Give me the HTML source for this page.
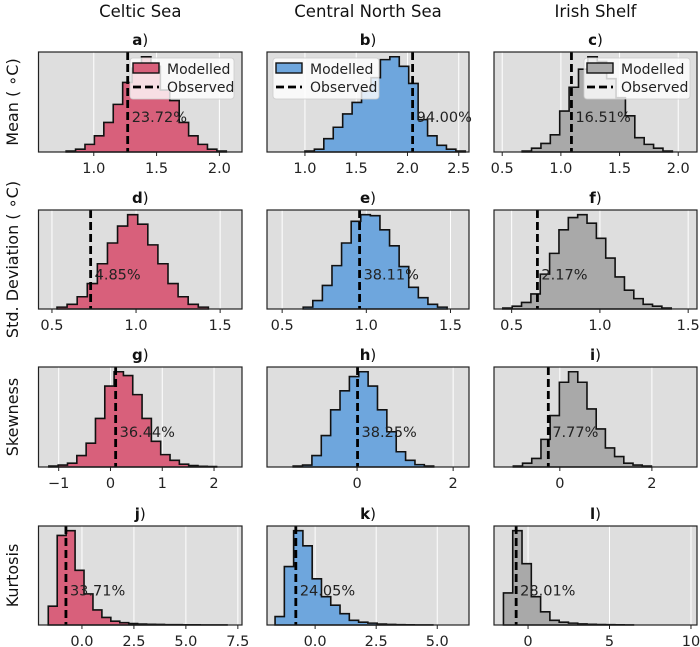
<!DOCTYPE html>
<html><head><meta charset="utf-8"><style>
body{margin:0;background:#fff;}
svg{display:block;font-family:"DejaVu Sans","Liberation Sans",sans-serif;}
</style></head><body>
<svg id="chart" width="700" height="647" viewBox="0 0 700 647" xmlns="http://www.w3.org/2000/svg"></svg>
<script>
// ---- data ----
const regions = ["Celtic Sea", "Central North Sea", "Irish Shelf"];
const metrics = ["Mean ( \u2218C)", "Std. Deviation ( \u2218C)", "Skewness", "Kurtosis"];
const panelLetters = ["a","b","c","d","e","f","g","h","i","j","k","l"];
const xMins = [0.56,0.63,0.43, 0.42,0.41,0.40, -1.39,-1.875,-1.43, -2.09,-1.97,-2.09];
const xMaxs = [2.18,2.60,2.16, 1.63,1.61,1.55, 2.54,2.33,2.98, 7.7,6.3,10.37];
const xTicks = [[1.0,1.5,2.0],[1.0,1.5,2.0,2.5],[0.5,1.0,1.5,2.0],
                [0.5,1.0,1.5],[0.5,1.0,1.5],[0.5,1.0,1.5],
                [-1,0,1,2],[0,2],[0,2],
                [0.0,2.5,5.0,7.5],[0.0,2.5,5.0],[0,5,10]];
const tickDecimals = [1,1,1, 1,1,1, 0,0,0, 1,1,0];
const binStarts = [0.78,1.0,0.67, 0.53,0.625,0.45, -1.19,-1.33,-1.01, -1.62,-1.64,-1.51];
const binWidths = [0.075,0.092,0.08, 0.06,0.057,0.053, 0.18,0.195,0.2, 0.43,0.38,0.57];
const countsA = [1,3,8,17,31,50,73,88,100,90,65,54,31,17,8,3,1];
const countsB = [1,3,14,26,40,52,64,78,97,100,90,72,34,17,7,3,1];
const countsC = [1,4,9,18,43,68,87,100,95,77,57,38,15,8,4,1];
const countsD = [2,5,13,27,48,70,88,100,90,68,48,27,13,5,2];
const countsE = [2,9,25,46,70,93,100,99,84,67,45,23,12,5,2];
const countsF = [1,3,7,16,37,59,84,97,100,91,75,54,34,20,11,5,3,1];
const countsG = [1,2,4,12,25,51,85,100,96,76,51,27,13,7,3,1.5,0.7,0.5];
const countsH = [1,2,12,33,60,80,95,100,85,60,37,16,7,2.5,1];
const countsI = [1,4,9,29,54,89,100,89,61,40,20,11,4,2,1];
const countsJ = [20,95,100,58,33,16,8,4,2.5,1.5,1,0.8,0.6,0.4,0.3,0.2,0.2,0.1,0.1,0.1];
const countsK = [9,62,100,84,49,30,21,12,5,3,2,1,0.6,0.4,0.2,0.1,0.1];
const countsL = [34,100,65,30,14,5,3,2,1.2,0.8,0.5,0.3,0.2,0.1];
const allCounts = [countsA,countsB,countsC,countsD,countsE,countsF,countsG,countsH,countsI,countsJ,countsK,countsL];
const observed = [1.27,2.05,1.09, 0.73,0.96,0.646, 0.10,0.01,-0.25, -0.77,-0.79,-0.73];
const pctLabels = ["23.72%","94.00%","16.51%","4.85%","38.11%","2.17%","36.44%","38.25%","7.77%","33.71%","24.05%","28.01%"];
const pctValues = [1.32,2.07,1.14, 0.80,1.00,0.67, 0.18,0.05,-0.15, 0.0,-0.1,-0.2];
const colors = ["#d8607b","#6ea6dd","#a9a9a9"];

// ---- layout ----
const colLeft = [38.5, 267, 494];
const colW = [203.5, 202, 203];
const rowTop = [52, 210, 367, 526];
const rowH = [100, 99, 100, 99];
const NS = "http://www.w3.org/2000/svg";
const svg = document.getElementById("chart");
function mk(tag, attrs, parent){const e=document.createElementNS(NS,tag);for(const k in attrs)e.setAttribute(k,attrs[k]);(parent||svg).appendChild(e);return e;}

regions.forEach((r,c)=>{
  const t=mk("text",{x:colLeft[c]+colW[c]/2,y:17,"text-anchor":"middle","font-size":"16.5",fill:"#111"});
  
  
  t.textContent=r;
});
metrics.forEach((m,r)=>{
  const cy=rowTop[r]+rowH[r]/2;
  const t=mk("text",{x:0,y:0,transform:`translate(18,${cy}) rotate(-90)`,"text-anchor":"middle","font-size":"16",fill:"#111"});
  
  
  t.textContent=m;
});

for(let p=0;p<12;p++){
  const r=Math.floor(p/3), c=p%3;
  const L=colLeft[c], W=colW[c], T=rowTop[r], H=rowH[r], B=T+H;
  const xs=v=>L+(v-xMins[p])/(xMaxs[p]-xMins[p])*W;
  const counts=allCounts[p];
  const ymax=Math.max(...counts)*1.05;
  const ys=v=>B-v/ymax*H;
  const g=mk("g",{});
  
  
  const bg=mk("rect",{x:L,y:T,width:W,height:H,fill:"#dedede"},g);
  
  
  xTicks[p].forEach(tv=>{
    const x=xs(tv);
    const gl=mk("line",{x1:x,x2:x,y1:T,y2:B,stroke:"#fff","stroke-width":1},g);
    
    
    const tk=mk("line",{x1:x,x2:x,y1:B,y2:B+4,stroke:"#222","stroke-width":1},g);
    
    
    const tl=mk("text",{x:x,y:B+21,"text-anchor":"middle","font-size":"14.5",fill:"#222"},g);
    
    
    tl.textContent=(tv<0?"\u2212":"")+Math.abs(tv).toFixed(tickDecimals[p]);
  });
  let d=`M${xs(binStarts[p])},${B}`;
  counts.forEach((cnt,i)=>{
    const x0=xs(binStarts[p]+i*binWidths[p]), x1=xs(binStarts[p]+(i+1)*binWidths[p]);
    d+=` L${x0},${ys(cnt)} L${x1},${ys(cnt)}`;
  });
  d+=` L${xs(binStarts[p]+counts.length*binWidths[p])},${B} Z`;
  const hist=mk("path",{d:d,fill:colors[c],stroke:"#111","stroke-width":1.6,"stroke-linejoin":"miter"},g);
  
  
  const ox=xs(observed[p]);
  const ol=mk("line",{x1:ox,x2:ox,y1:T,y2:B,stroke:"#000","stroke-width":2.8,"stroke-dasharray":"8,4"},g);
  
  
  const pt=mk("text",{x:ox+4,y:T+H*0.65+5,"font-size":"14.5",fill:"#222"},g);
  
  
  pt.textContent=pctLabels[p];
  const fr=mk("rect",{x:L,y:T,width:W,height:H,fill:"none",stroke:"#222","stroke-width":1.2},g);
  
  
  const tt=mk("text",{x:L+W/2,y:T-7,"text-anchor":"middle","font-size":"15",fill:"#111"},g);
  
  
  const b=mk("tspan",{"font-weight":"bold"},tt); b.textContent=panelLetters[p];
  const rp=mk("tspan",{},tt); rp.textContent=")";
  if(r===0){
    const lx=[130,273,584][c], lw=[104,106,106][c];
    const lg=mk("g",{},g);
    
    
    mk("rect",{x:lx,y:58,width:lw,height:41,rx:3,fill:"#fff","fill-opacity":0.8,stroke:"#ccc","stroke-opacity":0.8},lg);
    const pat=mk("rect",{x:lx+3,y:63,width:26,height:10,fill:colors[c],stroke:"#111","stroke-width":1.4},lg);
    
    
    const t1=mk("text",{x:lx+37,y:74,"font-size":"14",fill:"#222"},lg); t1.textContent="Modelled";
    
    
    const dl=mk("line",{x1:lx+3,x2:lx+29,y1:87,y2:87,stroke:"#000","stroke-width":2.8,"stroke-dasharray":"8,4"},lg);
    
    
    const t2=mk("text",{x:lx+37,y:92,"font-size":"14",fill:"#222"},lg); t2.textContent="Observed";
    
    
  }
}
</script>
</body></html>
